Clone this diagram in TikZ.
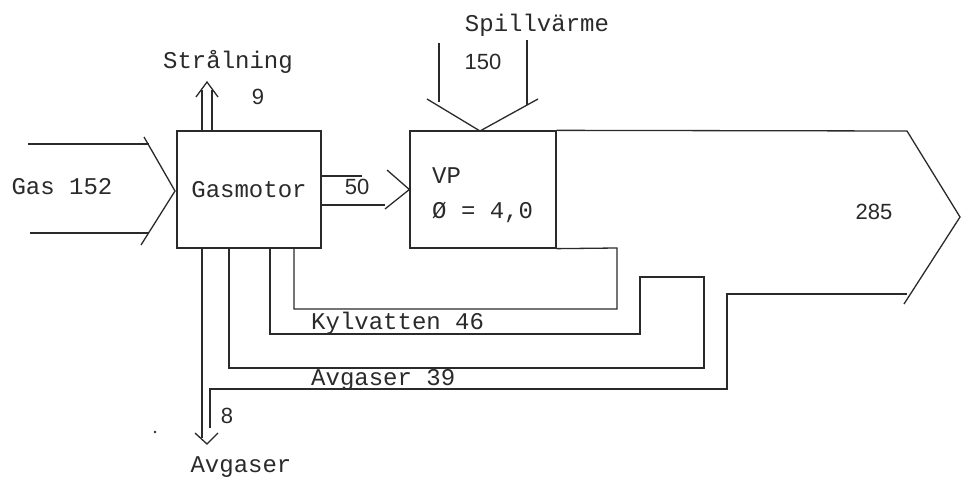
\documentclass[tikz,border=0pt]{standalone}
\usepackage{fontspec}
\setmonofont{Liberation Mono}
\newfontfamily\numfont{Liberation Sans}
\definecolor{ink}{HTML}{2A2A2A}
\begin{document}
\begin{tikzpicture}[x=1pt,y=-1pt,
  ln/.style={draw=ink, line width=1.3pt, line join=miter},
  box/.style={draw=ink, line width=1.3pt, inner sep=0pt, font=\ttfamily\fontsize{24}{28}\selectfont, text=ink},
  txt/.style={inner sep=0pt, font=\ttfamily\fontsize{24}{28}\selectfont, text=ink},
  num/.style={inner sep=0pt, font=\numfont\fontsize{22}{26}\selectfont, text=ink}]
\useasboundingbox (0,0) rectangle (961,478);

% boxes
\node[box, minimum width=144pt, minimum height=117pt] (gm) at (249,189.5) {Gasmotor};
\node[box, minimum width=146pt, minimum height=117pt] (vp) at (483,189.5) {};
\node[txt, anchor=west] (vpl) at (432,176) {VP};
\node[txt, anchor=west] (cop) at (432,212) {Ø = 4,0};

% Gas input arrow
\coordinate (g1) at (28,144);
\coordinate (g2) at (30,233);
\coordinate (gtip) at (175,191);
\draw[ln] (g1) -- (149,144);
\draw[ln] (g2) -- (149,233);
\draw[ln] (144,137) -- (gtip) -- (141,245);
\node[txt] (gas) at (62,187) {Gas 152};

% 50 arrow
\coordinate (a50a) at (321,176);
\coordinate (a50b) at (321,205);
\draw[ln] (a50a) -- (362,176);
\draw[ln] (a50b) -- (385,205);
\draw[ln] (387,170) -- (vp.west) -- (385,209);
\node[num] (n50) at (357,187) {50};

% Straalning arrow
\coordinate (s1) at (202,131);
\coordinate (s2) at (212,131);
\draw[ln] (s1) -- (202,90);
\draw[ln] (s2) -- (212,90);
\draw[ln] (196,97) -- (207,82) -- (218,97);
\node[txt] (str) at (228,62) {Strålning};
\node[num] (n9) at (258,97) {9};

% Spillvaerme arrow
\coordinate (sp1) at (439,43);
\coordinate (sp2) at (527,40);
\coordinate (sptip) at (480,131);
\draw[ln] (sp1) -- (439,102);
\draw[ln] (sp2) -- (527,105);
\draw[ln] (427,99) -- (sptip) -- (538,99);
\node[txt] (spv) at (537,25) {Spillvärme};
\node[num] (n150) at (483,62) {150};

% big output arrow
\coordinate (ptip) at (960,217);
\draw[ln] (vp.north east) -- (907,131) -- (ptip) -- (904,304);
\node[num] (n285) at (874,212) {285};

% cooling loop to VP
\coordinate (k1) at (294,248);
\draw[ln] (k1) -- (294,309) -- (617,309) -- (617,248) -- (vp.south east);

% second loop (Kylvatten)
\coordinate (k2) at (270,248);
\coordinate (k3) at (229,248);
\draw[ln] (k2) -- (270,334) -- (640,334) -- (640,277) -- (704,277) -- (704,368) -- (229,368) -- (k3);
\node[txt, anchor=west] (kyl) at (311,323) {Kylvatten 46};

% exhaust loop
\coordinate (e1) at (907,294);
\coordinate (e2) at (210,428);
\draw[ln] (e1) -- (727,294) -- (727,389) -- (210,389) -- (e2);
\node[txt, anchor=west] (avg39) at (311,380) {Avgaser 39};

% Avgaser 8 arrow
\coordinate (x1) at (202,248);
\draw[ln] (x1) -- (202,438);
\draw[ln] (195,433) -- (207,444) -- (218,433);
\node[num] (n8) at (227,416) {8};
\node[txt] (avg) at (241,467) {Avgaser};

% speck
\fill[ink] (155,432) circle (1.3pt);
\end{tikzpicture}
\end{document}
